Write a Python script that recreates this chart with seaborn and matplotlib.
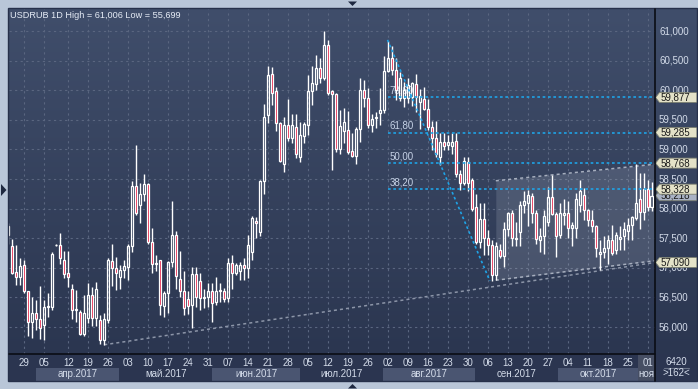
import numpy as np
import matplotlib
matplotlib.use("Agg")
import matplotlib.pyplot as plt
import seaborn as sns
from matplotlib.colors import LinearSegmentedColormap
from matplotlib.patches import Polygon, Rectangle
from matplotlib.lines import Line2D

# ---------------- data (USDRUB daily) ----------------
opens = [57.70, 57.37, 56.93, 56.85, 57.04, 56.60, 56.09, 56.23, 56.13, 56.03,
         56.33, 56.33, 57.38, 57.39, 57.13, 56.92, 56.65, 56.28, 56.26, 55.88,
         56.15, 56.54, 56.15, 56.12, 55.78, 56.12, 57.11, 56.99, 56.85, 56.97,
         57.02, 57.36, 58.38, 58.06, 58.25, 58.42, 57.44, 57.06, 57.13, 56.36,
         56.57, 57.09, 57.55, 56.81, 56.61, 56.47, 56.37, 56.90, 56.77, 56.49,
         56.50, 56.61, 56.42, 56.60, 56.61, 56.49, 57.08, 56.91, 56.94, 57.05,
         56.99, 57.27, 57.79, 57.61, 58.47, 59.58, 60.27, 59.98, 59.44, 58.75,
         59.41, 59.19, 59.37, 58.88, 59.22, 59.42, 59.99, 60.11, 60.38, 60.20,
         60.76, 59.98, 59.93, 59.01, 59.31, 59.33, 58.97, 58.89, 59.34, 60.00,
         59.87, 59.41, 59.53, 59.61, 59.67, 60.32, 60.55, 60.34, 59.86, 59.86,
         59.86, 59.89, 60.10, 59.80, 59.85, 59.69, 59.37, 59.20, 58.88, 59.13,
         59.07, 59.06, 59.15, 58.58, 58.43, 58.79, 58.49, 58.02, 57.44, 57.83,
         57.50, 57.38, 56.88, 57.30, 57.20, 57.65, 57.93, 57.49, 57.61, 58.06,
         58.10, 58.21, 57.92, 57.47, 57.53, 57.78, 58.19, 57.91, 57.55, 57.89,
         57.93, 57.67, 57.68, 58.06, 58.23, 57.97, 57.81, 57.71, 57.23, 57.27,
         57.33, 57.47, 57.30, 57.48, 57.53, 57.63, 57.72, 57.84, 58.17, 57.95,
         58.33, 58.03]
closes = [57.55, 56.92, 56.85, 57.03, 56.60, 56.09, 56.23, 56.13, 55.99, 56.34,
          56.35, 57.24, 57.39, 57.16, 56.90, 56.85, 56.29, 56.30, 55.88, 56.24,
          56.54, 56.15, 56.65, 55.78, 56.13, 57.13, 56.99, 56.91, 56.97, 57.03,
          57.37, 58.38, 57.92, 58.25, 58.42, 57.44, 57.06, 57.08, 56.37, 56.57,
          57.10, 57.55, 56.86, 56.61, 56.32, 56.36, 56.90, 56.50, 56.49, 56.51,
          56.61, 56.40, 56.61, 56.63, 56.48, 57.08, 56.91, 57.04, 57.05, 56.99,
          57.39, 57.84, 57.76, 58.47, 59.55, 60.26, 59.96, 59.44, 58.80, 59.41,
          59.20, 59.41, 58.93, 59.25, 59.43, 59.99, 60.12, 60.38, 60.20, 60.76,
          59.95, 59.94, 59.01, 59.40, 59.47, 58.96, 58.89, 59.34, 60.00, 59.87,
          59.41, 59.51, 59.55, 59.67, 60.32, 60.55, 60.34, 60.00, 60.21, 60.00,
          60.09, 60.12, 59.89, 59.90, 59.69, 59.37, 59.20, 58.93, 59.13, 59.06,
          59.13, 59.13, 58.58, 58.43, 58.80, 58.43, 58.00, 57.44, 57.83, 57.50,
          57.38, 56.88, 57.37, 57.20, 57.65, 57.92, 57.50, 57.51, 58.06, 58.12,
          58.23, 57.92, 57.48, 57.54, 57.88, 58.19, 57.91, 57.53, 57.92, 57.93,
          57.67, 57.72, 58.17, 58.29, 57.97, 57.80, 57.70, 57.33, 57.27, 57.33,
          57.47, 57.25, 57.55, 57.52, 57.65, 57.72, 57.85, 58.09, 57.95, 58.33,
          58.03, 58.21]
highs = [57.76, 57.48, 57.39, 57.16, 57.13, 56.61, 56.51, 56.46, 56.69, 56.46,
         56.57, 57.27, 57.40, 57.59, 57.28, 57.28, 56.73, 56.62, 56.29, 56.54,
         56.74, 56.67, 56.76, 56.20, 56.23, 57.16, 57.40, 57.18, 57.05, 57.14,
         57.41, 58.46, 59.07, 58.44, 58.59, 58.44, 57.67, 57.22, 57.14, 56.60,
         57.12, 58.12, 57.63, 57.28, 56.94, 56.60, 57.02, 57.02, 56.92, 56.65,
         56.74, 56.74, 56.85, 56.75, 56.66, 57.16, 57.22, 57.08, 57.09, 57.16,
         57.55, 57.88, 57.86, 58.48, 59.76, 60.41, 60.40, 60.06, 59.46, 59.54,
         59.85, 59.59, 59.59, 59.47, 59.47, 60.25, 60.41, 60.59, 60.54, 61.006,
         60.85, 60.00, 59.95, 59.67, 59.70, 59.65, 59.27, 59.37, 60.20, 60.17,
         60.03, 59.59, 59.63, 60.03, 60.58, 60.83, 60.75, 60.54, 60.31, 60.14,
         60.21, 60.14, 60.27, 60.02, 60.05, 59.85, 59.48, 59.48, 59.27, 59.27,
         59.24, 59.27, 59.27, 58.65, 58.88, 58.88, 58.51, 58.24, 58.09, 58.09,
         57.64, 57.47, 57.44, 57.41, 57.78, 57.95, 57.98, 57.78, 58.12, 58.29,
         58.31, 58.27, 57.98, 57.68, 57.98, 58.37, 58.57, 57.95, 58.09, 58.16,
         58.12, 57.78, 58.26, 58.49, 58.34, 57.99, 57.97, 57.72, 57.47, 57.54,
         57.55, 57.72, 57.61, 57.70, 57.78, 57.84, 57.87, 58.75, 58.60, 58.60,
         58.48, 58.45]
lows = [57.40, 56.90, 56.71, 56.71, 56.58, 55.85, 55.82, 55.95, 55.80, 55.78,
        56.17, 56.28, 57.37, 57.06, 56.82, 56.68, 56.13, 56.09, 55.86, 55.84,
        56.06, 56.01, 56.02, 55.71, 55.699, 56.06, 56.69, 56.63, 56.64, 56.82,
        56.79, 57.27, 57.89, 57.76, 58.12, 57.40, 56.91, 56.95, 56.20, 56.17,
        56.23, 57.02, 56.65, 56.51, 56.20, 56.22, 55.98, 56.34, 56.29, 56.32,
        56.34, 56.09, 56.38, 56.43, 56.42, 56.42, 56.65, 56.87, 56.79, 56.79,
        56.82, 57.13, 57.50, 57.54, 58.24, 59.44, 59.75, 59.31, 58.79, 58.62,
        59.14, 59.10, 58.85, 58.78, 59.10, 59.24, 59.75, 60.00, 60.12, 60.17,
        59.92, 58.65, 58.96, 58.93, 59.10, 58.93, 58.88, 58.76, 59.13, 59.72,
        59.36, 59.30, 59.36, 59.41, 59.61, 60.31, 60.26, 59.84, 59.81, 59.72,
        59.78, 59.74, 59.64, 59.35, 59.66, 59.33, 58.99, 58.88, 58.74, 58.99,
        58.99, 58.93, 58.54, 58.31, 58.40, 58.30, 57.96, 57.41, 57.33, 57.22,
        57.22, 56.77, 56.79, 57.16, 57.02, 57.53, 57.37, 57.37, 57.37, 57.92,
        57.70, 57.75, 57.41, 57.27, 57.24, 57.71, 57.89, 57.18, 57.50, 57.72,
        57.50, 57.36, 57.50, 57.95, 57.81, 57.70, 57.61, 57.19, 56.96, 57.16,
        57.06, 57.22, 57.23, 57.30, 57.30, 57.47, 57.47, 57.81, 57.65, 57.81,
        57.96, 57.96]

day_labels = ["29", "05", "12", "19", "26", "03", "10", "17", "24", "31", "07",
              "14", "21", "28", "05", "12", "19", "26", "02", "09", "16", "23",
              "30", "06", "13", "20", "27", "04", "11", "18", "25", "01"]
day_ticks = [4, 9] + list(range(15, 161, 5))
month_labels = ["апр.2017", "май.2017", "июн.2017", "июл.2017", "авг.2017",
                "сен.2017", "окт.2017", "ноя.2017"]
month_edges = [6.9, 27.8, 51.0, 73.0, 93.8, 116.8, 137.6, 157.5, 165.0]
month_shaded = [True, False, True, False, True, False, True, False]

price_ticks = [56.0, 56.5, 57.0, 57.5, 58.0, 58.5, 59.0, 59.5, 60.0, 60.5, 61.0]
fib_levels = [59.877, 59.285, 58.768, 58.328]
fib_names = ["78,60", "61,80", "50,00", "38,20"]
fib_start = 94.9
fib_trend_x = [94.9, 120.5]
fib_trend_y = [60.85, 56.78]
support_x = [24.0, 161.83]
support_y = [55.70, 57.09]
channel_x = [122.0, 161.83]
channel_top = [58.47, 58.75]
channel_bot = [56.79, 57.12]
tag_values = [59.877, 59.285, 58.768, 58.328, 57.090]
last_price = 58.218

# ---------------- style ----------------
sns.set_theme(style="dark")
plt.rcParams["font.family"] = ["Liberation Sans", "DejaVu Sans"]

W, H = 698, 389
fig = plt.figure(figsize=(W / 100, H / 100), dpi=100, facecolor="#B9C6D8")


def box(px0, py0, px1, py1):
    return [px0 / W, 1 - py1 / H, (px1 - px0) / W, (py1 - py0) / H]


L, R, T, B = 9, 655, 9, 354
X0, DX = 8.3, 3.996
xlim = ((L - X0) / DX, (R - X0) / DX)
ylim = (61 - (B - 31) / 59.2, 61 - (T - 31) / 59.2)

grad_cmap = LinearSegmentedColormap.from_list("bg", ["#2B3650", "#404E6B"])
grad = np.linspace(0, 1, 256).reshape(-1, 1)

ax = fig.add_axes(box(L, T, R, B))
ax.imshow(grad, extent=[xlim[0], xlim[1], ylim[0], ylim[1]], origin="lower",
          aspect="auto", cmap=grad_cmap, zorder=0)
ax.set_xlim(*xlim)
ax.set_ylim(*ylim)
ax.set_xticks([])
ax.set_yticks([])
for s in ax.spines.values():
    s.set_visible(False)

# grid
for p in price_ticks:
    ax.axhline(p, color="#5A6680", lw=0.8, ls=(0, (2, 3)), zorder=1)
for t in day_ticks:
    ax.axvline(t, color="#5A6680", lw=0.8, ls=(0, (2, 3)), zorder=1)

# channel
ax.fill_between(channel_x, channel_bot, channel_top, color="#C8CFDC", alpha=0.17,
                lw=0, zorder=2)
sns.lineplot(x=channel_x, y=channel_top, ax=ax, color="#A6AEBE", lw=1.1,
             linestyle=(0, (2, 2)), zorder=3)
sns.lineplot(x=channel_x, y=channel_bot, ax=ax, color="#A6AEBE", lw=1.1,
             linestyle=(0, (2, 2)), zorder=3)
# support
sns.lineplot(x=support_x, y=support_y, ax=ax, color="#8C95A8", lw=1.1,
             linestyle=(0, (2, 2)), zorder=3)

# fib labels (behind candles)
for lev, name in zip(fib_levels, fib_names):
    ax.text(fib_start + 0.6, lev + 0.03, name, color="#C6D2E6", fontsize=7,
            va="bottom", ha="left", zorder=3)

# candles
O = np.array(opens); C = np.array(closes)
Hh = np.array(highs); Ll = np.array(lows)
x = np.arange(len(O))
top = np.maximum(O, C)
bot = np.minimum(O, C)
hgt = np.maximum(top - bot, 0.012)
up = C >= O
ax.vlines(x, top, Hh, color="white", lw=1.0, zorder=4)
ax.vlines(x, Ll, bot, color="white", lw=1.0, zorder=4)
ax.bar(x[up], hgt[up], bottom=bot[up], width=0.58, facecolor="none",
       edgecolor="white", lw=0.9, zorder=5)
ax.bar(x[~up], hgt[~up], bottom=bot[~up], width=0.58, facecolor="#E3143C",
       edgecolor="white", lw=0.9, zorder=5)

# fib lines (on top)
for lev in fib_levels:
    ax.plot([fib_start, xlim[1]], [lev, lev], color="#1FA3E6", lw=1.2,
            ls=(0, (1.6, 1.6)), zorder=6)
sns.lineplot(x=fib_trend_x, y=fib_trend_y, ax=ax, color="#1FA3E6", lw=1.2,
             linestyle=(0, (1.6, 1.6)), zorder=6)

ax.text((10 - X0) / DX, ylim[1] - (15 - T) / 59.2,
        "USDRUB 1D High = 61,006 Low = 55,699", color="#E6ECF6", fontsize=6.6,
        va="center", ha="left", zorder=8)

# ---------------- date strip ----------------
axd = fig.add_axes(box(L, B, R, 381))
axd.set_facecolor("#2B3550")
axd.set_xlim(*xlim)
axd.set_ylim(0, 27)
axd.set_xticks([]); axd.set_yticks([])
for s in axd.spines.values():
    s.set_visible(False)
for i, lab in enumerate(month_labels):
    a, b = month_edges[i], month_edges[i + 1]
    if month_shaded[i]:
        axd.add_patch(Rectangle((a, 0), b - a, 13.5, color="#4A5571", lw=0, zorder=1))
    if i < 7:
        axd.text((a + b) / 2, 7.2, lab, color="#D4DCEA", fontsize=7,
                 ha="center", va="center", zorder=3)
    else:
        axd.text(a + 0.3, 7.2, lab, color="#D4DCEA", fontsize=7, ha="left",
                 va="center", zorder=3, clip_on=True)
axd.add_patch(Rectangle((157.5, 0), 5, 27, color="#4B5367", lw=0, zorder=2, alpha=0.85))
for t, lab in zip(day_ticks, day_labels):
    axd.text(t, 18.5, lab, color="#D4DCEA", fontsize=7, ha="center",
             va="center", zorder=3)

# ---------------- right price strip ----------------
axr = fig.add_axes(box(R, T, 697, B))
axr.imshow(grad, extent=[0, 42, ylim[0], ylim[1]], origin="lower",
           aspect="auto", cmap=grad_cmap, zorder=0)
axr.set_xlim(0, 42)
axr.set_ylim(*ylim)
axr.set_xticks([]); axr.set_yticks([])
for s in axr.spines.values():
    s.set_visible(False)
for p in price_ticks:
    axr.text(4, p, f"{p:.3f}".replace(".", ","), color="#D4DCEA", fontsize=7,
             va="center", ha="left", zorder=2)


def tag(y, label, face, z):
    h = 0.085
    pts = [(0.6, y), (4.5, y + h), (42, y + h), (42, y - h), (4.5, y - h)]
    axr.add_patch(Polygon(pts, closed=True, facecolor=face, edgecolor="#7A7E70",
                          lw=0.6, zorder=z))
    axr.text(5.2, y, label, color="#1A1A1A", fontsize=7, va="center",
             ha="left", zorder=z + 0.5)


tag(last_price, f"{last_price:.3f}".replace(".", ","), "#A9B2C4", 3)
for v in tag_values:
    tag(v, f"{v:.3f}".replace(".", ","), "#E4E2C8", 4)

# ---------------- corner box ----------------
axc = fig.add_axes(box(R, B, 697, 381))
axc.set_facecolor("#2B3550")
axc.set_xlim(0, 42); axc.set_ylim(0, 27)
axc.set_xticks([]); axc.set_yticks([])
for s in axc.spines.values():
    s.set_visible(False)
axc.text(21, 19, "6420", color="#D4DCEA", fontsize=7, ha="center", va="center")
axc.text(21, 7.5, ">162<", color="#D4DCEA", fontsize=7, ha="center", va="center")
axc.plot([9, 34], [13.5, 13.5], color="#6A7488", lw=0.8)

# ---------------- frame details ----------------
def fl(xs, ys, **kw):
    fig.add_artist(Line2D([v / W for v in xs], [1 - v / H for v in ys],
                          transform=fig.transFigure, **kw))


fl([R, R], [T, 381], color="#0A0D14", lw=1.2)
fl([L, R], [B, B], color="#0A0D14", lw=1.2)
fig.add_artist(Rectangle((8 / W, 1 - 381 / H), 689 / W, 373 / H,
                         transform=fig.transFigure, fill=False,
                         edgecolor="#26304A", lw=1.0))


def tri(pts):
    fig.add_artist(Polygon([(a / W, 1 - b / H) for a, b in pts], closed=True,
                           transform=fig.transFigure, facecolor="#1E2840",
                           edgecolor="none"))


tri([(348, 1.5), (357, 1.5), (352.5, 6)])
tri([(348, 388.5), (357, 388.5), (352.5, 384)])
tri([(1, 184), (1, 196), (6.5, 190)])

fig.savefig("out.png", dpi=100, facecolor=fig.get_facecolor())
